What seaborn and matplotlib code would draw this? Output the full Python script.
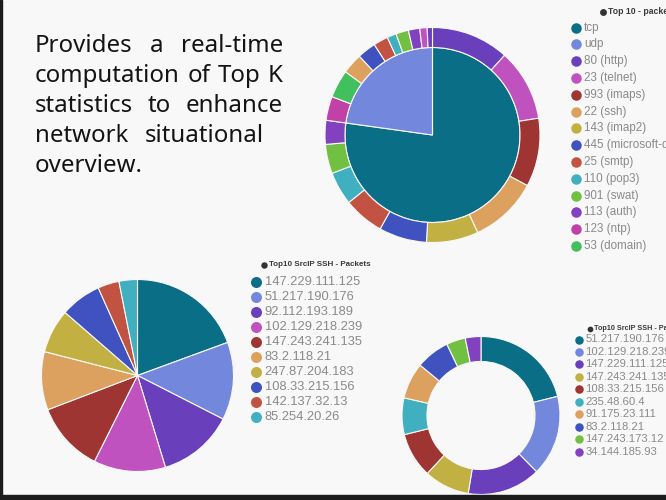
import matplotlib
matplotlib.use("Agg")
import matplotlib.pyplot as plt
from matplotlib.patches import Rectangle
import seaborn as sns

W, H = 666, 500
BG = "#f8f8f8"

# ---------------- data ----------------
# sunburst: protocol (inner) and destination port (outer), share of packets in %
proto_labels = ["tcp", "udp"]
proto_share = [77.2, 22.8]

tcp_ports = ["80 (http)", "23 (telnet)", "993 (imaps)", "22 (ssh)", "143 (imap2)",
             "445 (microsoft-ds)", "25 (smtp)", "110 (pop3)", "901 (swat)", "113 (auth)"]
tcp_port_share = [11.7, 10.8, 10.3, 10.3, 7.8, 7.2, 6.1, 5.0, 4.4, 3.6]

udp_ports = ["123 (ntp)", "53 (domain)", "22 (ssh)", "445 (microsoft-ds)", "25 (smtp)",
             "110 (pop3)", "901 (swat)", "113 (auth)", "23 (telnet)", "80 (http)"]
udp_port_share = [3.6, 4.2, 3.1, 2.8, 2.2, 1.4, 1.9, 1.7, 1.1, 0.8]

top_legend = ["tcp", "udp", "80 (http)", "23 (telnet)", "993 (imaps)", "22 (ssh)",
              "143 (imap2)", "445 (microsoft-ds)", "25 (smtp)", "110 (pop3)",
              "901 (swat)", "113 (auth)", "123 (ntp)", "53 (domain)"]

# top 10 source IPs (SSH) - packets, share in %
ssh_src_ips = ["147.229.111.125", "51.217.190.176", "92.112.193.189", "102.129.218.239",
               "147.243.241.135", "83.2.118.21", "247.87.204.183", "108.33.215.156",
               "142.137.32.13", "85.254.20.26"]
ssh_src_share = [19.4, 13.1, 12.8, 12.1, 11.8, 9.8, 7.4, 6.9, 3.6, 3.1]

ssh_src_ips_b = ["51.217.190.176", "102.129.218.239", "147.229.111.125", "147.243.241.135",
                 "108.33.215.156", "235.48.60.4", "91.175.23.111", "83.2.118.21",
                 "147.243.173.12", "34.144.185.93"]
ssh_src_share_b = [21.1, 16.5, 15.0, 9.3, 9.2, 7.5, 7.4, 6.9, 3.9, 3.2]

# ---------------- style ----------------
sns.set_theme(style="white")
plt.rcParams["font.family"] = ["Liberation Sans", "DejaVu Sans"]

palette = sns.color_palette(["#0b6e87", "#7388dc", "#6a3fbb", "#bf52bf", "#9e3533",
                             "#dca15e", "#c2b142", "#4052bf", "#c25241", "#40b0c0",
                             "#72c042", "#8242c0", "#c041a8", "#41c05d"])
color_of = dict(zip(top_legend, palette))

ip_colors_a = [palette[i] for i in [0, 1, 2, 3, 4, 5, 6, 7, 8, 9]]
ip_colors_b = [palette[i] for i in [0, 1, 2, 6, 4, 9, 5, 7, 10, 11]]

fig = plt.figure(figsize=(W / 100, H / 100), dpi=100, facecolor=BG)

# frame edges of the slide
fig.patches.append(Rectangle((0, 0), 2.2 / W, 1, transform=fig.transFigure,
                             color="#1c1c1c", zorder=5))
fig.patches.append(Rectangle((0, 0), 1, 5.5 / H, transform=fig.transFigure,
                             color="#1c1c1c", zorder=5))


def pie_axes(cx, cy, r):
    ax = fig.add_axes([(cx - r) / W, 1 - (cy + r) / H, 2 * r / W, 2 * r / H])
    ax.set_facecolor("none")
    return ax


def finish(ax):
    ax.set_xlim(-1, 1)
    ax.set_ylim(-1, 1)
    ax.set_aspect("equal")
    ax.axis("off")


edge = dict(edgecolor=BG, linewidth=0.8)

# ---- sunburst: protocol / port ----
ax1 = pie_axes(432.5, 135, 107.5)
inner_r = 0.814
ax1.pie(proto_share, radius=inner_r, colors=[color_of[p] for p in proto_labels],
        startangle=90, counterclock=False, wedgeprops=edge)
ring_labels = tcp_ports + udp_ports
ring_share = tcp_port_share + udp_port_share
ax1.pie(ring_share, radius=1.0, colors=[color_of[p] for p in ring_labels],
        startangle=90, counterclock=False,
        wedgeprops=dict(width=1.0 - inner_r, **edge))
finish(ax1)

# ---- pie: top 10 source IPs ----
ax2 = pie_axes(137.5, 375.5, 96)
ax2.pie(ssh_src_share, radius=1.0, colors=ip_colors_a, startangle=90,
        counterclock=False, wedgeprops=edge)
finish(ax2)

# ---- donut: top 10 source IPs ----
ax3 = pie_axes(481, 415.5, 79)
ax3.pie(ssh_src_share_b, radius=1.0, colors=ip_colors_b, startangle=90,
        counterclock=False, wedgeprops=dict(width=0.316, **edge))
finish(ax3)

# ---- overlay in pixel coordinates for legends ----
ov = fig.add_axes([0, 0, 1, 1])
ov.set_xlim(0, W)
ov.set_ylim(H, 0)
ov.axis("off")
ov.set_facecolor("none")


def legend(title, labels, colors, x_dot, y0, step, dot_px, fs,
           title_x, title_y, title_fs):
    ov.scatter([title_x], [title_y], s=(title_fs * 0.8) ** 2, color="#333333",
               linewidths=0, clip_on=False, zorder=6)
    ov.text(title_x + title_fs * 0.8, title_y, title, fontsize=title_fs, color="#3a3a3a",
            fontweight="bold", va="center", ha="left", clip_on=False)
    for i, (lab, col) in enumerate(zip(labels, colors)):
        y = y0 + i * step
        ov.scatter([x_dot], [y], s=(dot_px * 0.72) ** 2, color=col, linewidths=0,
                   clip_on=False, zorder=6)
        ov.text(x_dot + dot_px * 0.8, y, lab, fontsize=fs, color="#8a8a8a",
                va="center", ha="left", clip_on=False)


legend("Top 10 - packets", top_legend, [color_of[l] for l in top_legend],
       x_dot=575.5, y0=27.5, step=16.8, dot_px=10.5, fs=8.4,
       title_x=603, title_y=12, title_fs=6.2)
legend("Top10 SrcIP SSH - Packets", ssh_src_ips, ip_colors_a,
       x_dot=256, y0=282, step=15.0, dot_px=11, fs=9.3,
       title_x=264, title_y=265, title_fs=5.8)
legend("Top10 SrcIP SSH - Packets", ssh_src_ips_b, ip_colors_b,
       x_dot=578.5, y0=339.5, step=12.45, dot_px=8.5, fs=8.1,
       title_x=590, title_y=328.5, title_fs=5.2)

# ---- justified description paragraph ----
para = [["Provides", "a", "real-time"],
        ["computation", "of", "Top", "K"],
        ["statistics", "to", "enhance"],
        ["network", "situational"],
        ["overview."]]
right_edges = [283, 283, 283, 264, None]
PFONT = ["Noto Sans", "DejaVu Sans"]
PFS = 17.3
left, base0, leading = 35, 51.7, 30

renderer = fig.canvas.get_renderer()


def width_px(word):
    t = ov.text(0, 0, word, fontsize=PFS, family=PFONT)
    w = t.get_window_extent(renderer).width
    t.remove()
    return w


space_w = width_px("a b") - width_px("a") - width_px("b")
for li, words in enumerate(para):
    widths = [width_px(w) for w in words]
    y = base0 + li * leading
    if right_edges[li] is not None and len(words) > 1:
        gap = (right_edges[li] - left - sum(widths)) / (len(words) - 1)
    else:
        gap = space_w
    x = left
    for w, wd in zip(words, widths):
        ov.text(x, y, w, fontsize=PFS, family=PFONT, color="#141414",
                va="baseline", ha="left")
        x += wd + gap

fig.savefig("out.png", dpi=100, facecolor=BG)
